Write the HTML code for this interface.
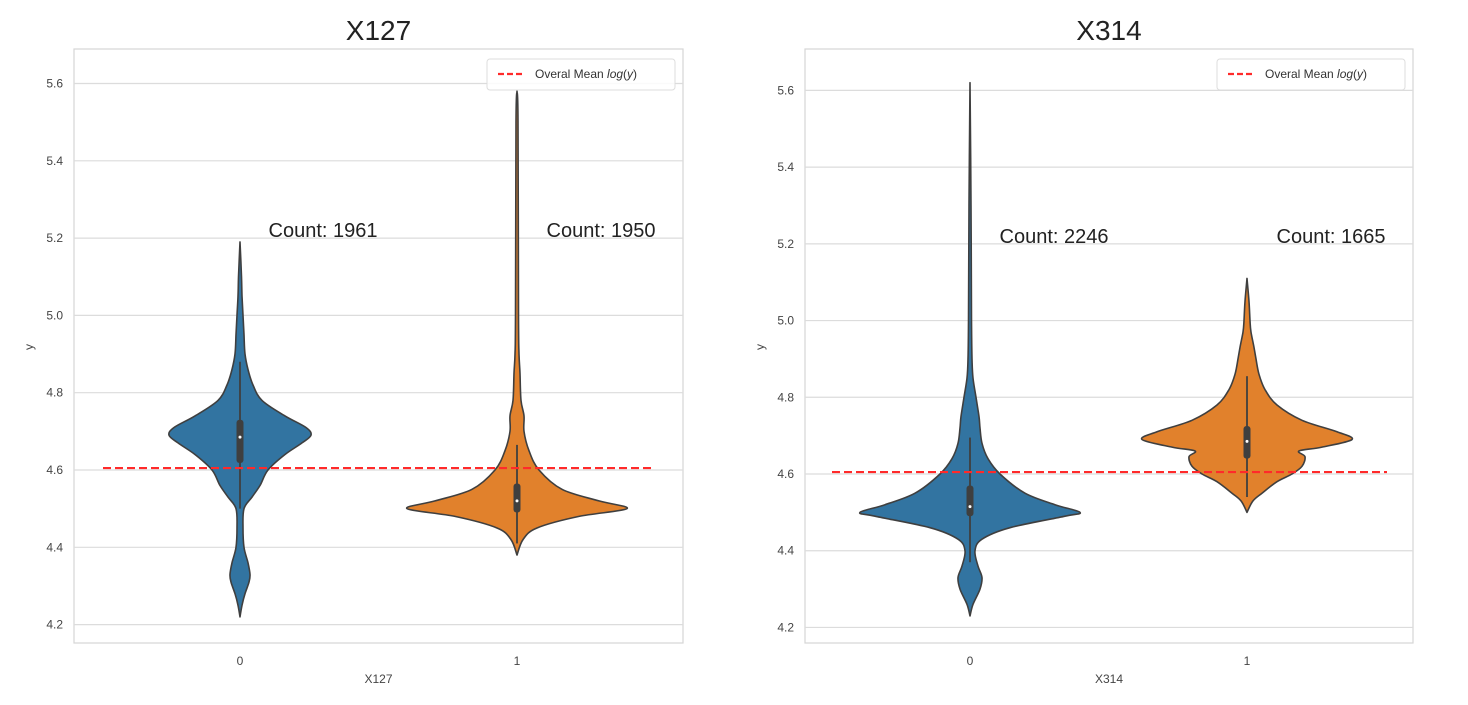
<!DOCTYPE html>
<html><head><meta charset="utf-8">
<style>
body{margin:0;background:#fff;width:1468px;height:700px;overflow:hidden;font-family:"Liberation Sans",sans-serif}
</style></head>
<body>
<svg id="chart" width="1468" height="700" xmlns="http://www.w3.org/2000/svg" font-family="Liberation Sans, sans-serif"></svg>
<script>
// ---- data ----
const yTicks = [4.2, 4.4, 4.6, 4.8, 5.0, 5.2, 5.4, 5.6];
const categories = ["0", "1"];
const overallMean = 4.605;
const titles = ["X127", "X314"];
const counts = [[1961, 1950], [2246, 1665]];
// violin profiles: y values and half-widths (density, px-scaled)
const p1v0Y = [4.22,4.25,4.28,4.31,4.33,4.36,4.40,4.45,4.50,4.53,4.56,4.60,4.64,4.67,4.69,4.71,4.74,4.78,4.82,4.86,4.90,4.95,5.00,5.05,5.10,5.19];
const p1v0W = [0,2,5,9,10,8,4,3,4,12,20,28,45,62,71,66,45,22,13,8,5,4,3,2,1.5,0];
const p1v1Y = [4.38,4.42,4.45,4.48,4.50,4.52,4.55,4.60,4.65,4.70,4.74,4.78,4.85,4.90,5.00,5.50,5.58];
const p1v1W = [0,6,20,62,110,82,45,22,12,7,7,4,3,2,1.5,1,0];
const p2v0Y = [4.23,4.26,4.30,4.33,4.36,4.40,4.43,4.46,4.49,4.50,4.52,4.55,4.60,4.64,4.68,4.72,4.75,4.80,4.85,4.90,5.00,5.30,5.62];
const p2v0W = [0,3,10,12,8,5,12,40,95,110,85,55,30,18,12,10,9,6,3,2,1.5,1,0];
const p2v1Y = [4.50,4.53,4.55,4.58,4.60,4.62,4.645,4.66,4.67,4.69,4.71,4.74,4.78,4.82,4.86,4.90,4.93,4.97,5.00,5.05,5.11];
const p2v1W = [0,6,15,30,45,55,58,52,75,105,90,55,30,18,12,9,7,4,3,2,0];
// box stats: [whiskerLow, q1, median, q3, whiskerHigh]
const p1Box = [[4.50,4.618,4.685,4.73,4.88],[4.41,4.49,4.52,4.565,4.665]];
const p2Box = [[4.37,4.49,4.515,4.57,4.695],[4.54,4.64,4.685,4.725,4.855]];

const panels = [
  {x0:74,x1:683,y0:49,y1:643,yRef:470,ppu:386.5,cx:[240,517],mx:[103,655],legX:487,
   prof:[[p1v0Y,p1v0W],[p1v1Y,p1v1W]],box:p1Box,countX:[323,601],countV:5.2},
  {x0:805,x1:1413,y0:49,y1:643,yRef:474,ppu:383.6,cx:[970,1247],mx:[832,1387],legX:1217,
   prof:[[p2v0Y,p2v0W],[p2v1Y,p2v1W]],box:p2Box,countX:[1054,1331],countV:5.2}
];
const colors = ["#3274a1","#e1812c"];
const NS="http://www.w3.org/2000/svg";
const svg=document.getElementById('chart');
function mk(tag,attrs,parent,text){const e=document.createElementNS(NS,tag);for(const k in attrs)e.setAttribute(k,attrs[k]);if(text!==undefined)e.textContent=text;(parent||svg).appendChild(e);return e;}
function crPath(pts){let d="M"+pts[0][0]+","+pts[0][1];for(let i=0;i<pts.length-1;i++){const p0=pts[Math.max(0,i-1)],p1=pts[i],p2=pts[i+1],p3=pts[Math.min(pts.length-1,i+2)];const c1=[p1[0]+(p2[0]-p0[0])/6,p1[1]+(p2[1]-p0[1])/6];const c2=[p2[0]-(p3[0]-p1[0])/6,p2[1]-(p3[1]-p1[1])/6];d+=" C"+c1[0].toFixed(1)+","+c1[1].toFixed(1)+" "+c2[0].toFixed(1)+","+c2[1].toFixed(1)+" "+p2[0].toFixed(1)+","+p2[1].toFixed(1);}return d;}

panels.forEach((P,pi)=>{
  const Y=v=>P.yRef-(v-4.6)*P.ppu;
  const g=mk('g',{});
  
  
  const bg=mk('rect',{x:P.x0,y:P.y0,width:P.x1-P.x0,height:P.y1-P.y0,fill:'#fff',stroke:'#d5d5d5','stroke-width':1.2},g);
  
  
  yTicks.forEach(t=>{
    const gl=mk('line',{x1:P.x0,x2:P.x1,y1:Y(t),y2:Y(t),stroke:'#dcdcdc','stroke-width':1.2},g);
    
    
    const tl=mk('text',{x:P.x0-11,y:Y(t)+4,'text-anchor':'end','font-size':12,fill:'#444'},g,t.toFixed(1));
    
    
  });
  categories.forEach((c,ci)=>{
    const xl=mk('text',{x:P.cx[ci],y:665,'text-anchor':'middle','font-size':12,fill:'#444'},g,c);
    
    
    const [ys,ws]=P.prof[ci];
    const right=ys.map((v,i)=>[P.cx[ci]+ws[i],Y(v)]);
    const left=ys.map((v,i)=>[P.cx[ci]-ws[i],Y(v)]).reverse();
    const d=crPath(right)+" L"+crPath(left).slice(1)+" Z";
    const vp=mk('path',{d:d,fill:colors[ci],stroke:'#3f3f3f','stroke-width':1.6,'stroke-linejoin':'round'},g);
    
    
    const b=P.box[ci];
    const wl=mk('line',{x1:P.cx[ci],x2:P.cx[ci],y1:Y(b[0]),y2:Y(b[4]),stroke:'#3f3f3f','stroke-width':1.8},g);
    
    
    const bx=mk('rect',{x:P.cx[ci]-3.5,y:Y(b[3]),width:7,height:Y(b[1])-Y(b[3]),rx:3,fill:'#3f3f3f'},g);
    
    
    const md=mk('circle',{cx:P.cx[ci],cy:Y(b[2]),r:1.5,fill:'#fff'},g);
    
    
    const ct=mk('text',{x:P.countX[ci],y:Y(P.countV)-1,'text-anchor':'middle','font-size':20,fill:'#222'},g,'Count: '+counts[pi][ci]);
    
    
  });
  const ml=mk('line',{x1:P.mx[0],x2:P.mx[1],y1:Y(overallMean),y2:Y(overallMean),stroke:'#ff2a2a','stroke-width':2.2,'stroke-dasharray':'8,4'},g);
  
  
  const tt=mk('text',{x:(P.x0+P.x1)/2,y:40,'text-anchor':'middle','font-size':28,fill:'#222'},g,titles[pi]);
  
  
  const xt=mk('text',{x:(P.x0+P.x1)/2,y:683,'text-anchor':'middle','font-size':12,fill:'#444'},g,titles[pi]);
  
  
  const yt=mk('text',{x:0,y:0,'text-anchor':'middle','font-size':12,fill:'#444',transform:'translate('+(P.x0-41)+',347) rotate(-90)'},g,'y');
  
  
  const lg=mk('g',{},g);
  
  
  mk('rect',{x:P.legX,y:59,width:188,height:31,rx:3,fill:'#fff','fill-opacity':0.85,stroke:'#ddd'},lg);
  mk('line',{x1:P.legX+11,x2:P.legX+38,y1:74,y2:74,stroke:'#ff2a2a','stroke-width':2.2,'stroke-dasharray':'6,3'},lg);
  const lt=mk('text',{x:P.legX+48,y:78,'font-size':12,fill:'#333'},lg);
  
  
  lt.appendChild(document.createTextNode('Overal Mean '));
  const it=document.createElementNS(NS,'tspan');it.setAttribute('font-style','italic');it.textContent='log';lt.appendChild(it);
  lt.appendChild(document.createTextNode('('));
  const it2=document.createElementNS(NS,'tspan');it2.setAttribute('font-style','italic');it2.textContent='y';lt.appendChild(it2);
  lt.appendChild(document.createTextNode(')'));
});
</script>
</body></html>
